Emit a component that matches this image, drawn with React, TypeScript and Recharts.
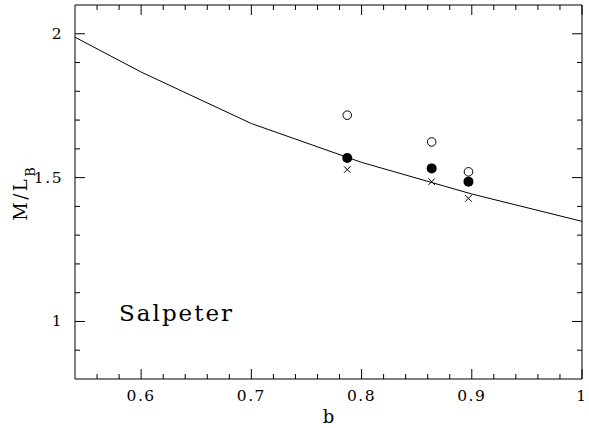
import { ComposedChart, Line, Scatter, XAxis, YAxis, Label } from 'recharts';

// tick positions along b (minor every 0.02) and M/L (minor every 0.1)
const B_TICKS = [0.56, 0.58, 0.6, 0.62, 0.64, 0.66, 0.68, 0.7, 0.72, 0.74, 0.76, 0.78, 0.8, 0.82, 0.84, 0.86, 0.88, 0.9, 0.92, 0.94, 0.96, 0.98, 1.0];
const B_LABELS = [0.6, 0.7, 0.8, 0.9, 1.0];
const ML_TICKS = [0.9, 1.0, 1.1, 1.2, 1.3, 1.4, 1.5, 1.6, 1.7, 1.8, 1.9, 2.0];
const ML_LABELS = [1, 1.5, 2];

// Salpeter model curve
const MODEL_B = [0.54, 0.6, 0.7, 0.8, 0.9, 1.0];
const MODEL_ML = [1.988, 1.867, 1.688, 1.553, 1.443, 1.348];

// measured points
const POINT_B = [0.787, 0.8636, 0.897];
const OPEN_ML = [1.717, 1.624, 1.52];
const FILLED_ML = [1.568, 1.532, 1.486];
const CROSS_ML = [1.528, 1.486, 1.428];

const modelData = MODEL_B.map((b, i) => ({ b, ml: MODEL_ML[i] }));
const openData = POINT_B.map((b, i) => ({ b, ml: OPEN_ML[i] }));
const filledData = POINT_B.map((b, i) => ({ b, ml: FILLED_ML[i] }));
const crossData = POINT_B.map((b, i) => ({ b, ml: CROSS_ML[i] }));
const noteData = [{ b: 0.58, ml: 1.0 }];

const FONT = '"DejaVu Serif", serif';
const isMajor = (list: number[], v: number) => list.some((m) => Math.abs(m - v) < 1e-6);
const fmt = (v: number) => (Math.abs(v - Math.round(v)) < 1e-6 ? String(Math.round(v)) : String(v));

// inward ticks: custom tick draws the mark itself, label only on majors
const BottomTick = (props: any) => {
  const { x, y, payload } = props;
  const major = isMajor(B_LABELS, payload.value);
  return (
    <g>
      <path d={`M${x},${y}V${y - (major ? 10 : 5)}`} stroke="#000" strokeWidth={1} fill="none" />
      {major && (
        <text x={x} y={y + 22} textAnchor="middle" fontFamily={FONT} fontSize={15.5} letterSpacing={1.5} fill="#000">
          {fmt(payload.value)}
        </text>
      )}
    </g>
  );
};

const TopTick = (props: any) => {
  const { x, y, payload } = props;
  const major = isMajor(B_LABELS, payload.value);
  return <path d={`M${x},${y}V${y + (major ? 10 : 5)}`} stroke="#000" strokeWidth={1} fill="none" />;
};

const LeftTick = (props: any) => {
  const { x, y, payload } = props;
  const major = isMajor(ML_LABELS, payload.value);
  return (
    <g>
      <path d={`M${x},${y}H${x + (major ? 10 : 5)}`} stroke="#000" strokeWidth={1} fill="none" />
      {major && (
        <text x={x - 12} y={y + 5} textAnchor="end" fontFamily={FONT} fontSize={15.5} letterSpacing={1.5} fill="#000">
          {fmt(payload.value)}
        </text>
      )}
    </g>
  );
};

const RightTick = (props: any) => {
  const { x, y, payload } = props;
  const major = isMajor(ML_LABELS, payload.value);
  return <path d={`M${x},${y}H${x - (major ? 10 : 5)}`} stroke="#000" strokeWidth={1} fill="none" />;
};

const OpenDot = (props: any) => <circle cx={props.cx} cy={props.cy} r={4.3} fill="#fff" stroke="#000" strokeWidth={1} />;
const FilledDot = (props: any) => <circle cx={props.cx} cy={props.cy} r={5} fill="#000" />;
const Cross = (props: any) => {
  const { cx, cy } = props;
  const s = 3.3;
  return <path d={`M${cx - s},${cy - s}L${cx + s},${cy + s}M${cx - s},${cy + s}L${cx + s},${cy - s}`} stroke="#000" strokeWidth={1} fill="none" />;
};
const Note = (props: any) => (
  <text x={props.cx} y={props.cy} fontFamily={FONT} fontSize={23} textLength={113} lengthAdjust="spacing" fill="#000">
    Salpeter
  </text>
);

export default function App() {
  return (
    <div style={{ position: 'absolute', left: 0, top: 0, background: '#fff' }}>
      <ComposedChart width={589} height={428} margin={{ top: 4, right: 6, left: 0, bottom: 0 }}>
        <XAxis
          xAxisId="bottom"
          type="number"
          dataKey="b"
          domain={[0.54, 1.0]}
          ticks={B_TICKS}
          interval={0}
          allowDataOverflow
          height={49}
          tickSize={0}
          tickMargin={0}
          tickLine={false}
          tick={BottomTick}
          axisLine={{ stroke: '#000' }}
        >
          <Label
            content={(p: any) => (
              <text
                x={p.viewBox.x + p.viewBox.width / 2}
                y={p.viewBox.y + 44}
                textAnchor="middle"
                fontFamily={FONT}
                fontSize={18}
                fill="#000"
              >
                b
              </text>
            )}
          />
        </XAxis>
        <XAxis
          xAxisId="top"
          orientation="top"
          type="number"
          dataKey="b"
          domain={[0.54, 1.0]}
          ticks={B_TICKS}
          interval={0}
          allowDataOverflow
          height={1}
          tickSize={0}
          tickMargin={0}
          tickLine={false}
          tick={TopTick}
          axisLine={{ stroke: '#000' }}
        />
        <YAxis
          yAxisId="left"
          type="number"
          dataKey="ml"
          domain={[0.8, 2.1]}
          ticks={ML_TICKS}
          interval={0}
          allowDataOverflow
          width={75}
          tickSize={0}
          tickMargin={0}
          tickLine={false}
          tick={LeftTick}
          axisLine={{ stroke: '#000' }}
        >
          <Label
            content={(p: any) => {
              const cx = p.viewBox.x + 27;
              const cy = p.viewBox.y + p.viewBox.height / 2 + 2;
              return (
                <text
                  x={cx}
                  y={cy}
                  transform={`rotate(-90, ${cx}, ${cy})`}
                  textAnchor="middle"
                  fontFamily={FONT}
                  fontSize={18}
                  letterSpacing={2.5}
                  fill="#000"
                >
                  M/L
                  <tspan fontSize={13} dy={8} letterSpacing={0}>
                    B
                  </tspan>
                </text>
              );
            }}
          />
        </YAxis>
        <YAxis
          yAxisId="right"
          orientation="right"
          type="number"
          dataKey="ml"
          domain={[0.8, 2.1]}
          ticks={ML_TICKS}
          interval={0}
          allowDataOverflow
          width={1}
          tickSize={0}
          tickMargin={0}
          tickLine={false}
          tick={RightTick}
          axisLine={{ stroke: '#000' }}
        />
        <Line
          xAxisId="bottom"
          yAxisId="left"
          data={modelData}
          dataKey="ml"
          type="linear"
          stroke="#000"
          strokeWidth={1}
          dot={false}
          activeDot={false}
          isAnimationActive={false}
        />
        <Scatter xAxisId="bottom" yAxisId="left" data={openData} dataKey="ml" shape={OpenDot} isAnimationActive={false} />
        <Scatter xAxisId="bottom" yAxisId="left" data={filledData} dataKey="ml" shape={FilledDot} isAnimationActive={false} />
        <Scatter xAxisId="bottom" yAxisId="left" data={crossData} dataKey="ml" shape={Cross} isAnimationActive={false} />
        <Scatter xAxisId="bottom" yAxisId="left" data={noteData} dataKey="ml" shape={Note} isAnimationActive={false} />
      </ComposedChart>
    </div>
  );
}
